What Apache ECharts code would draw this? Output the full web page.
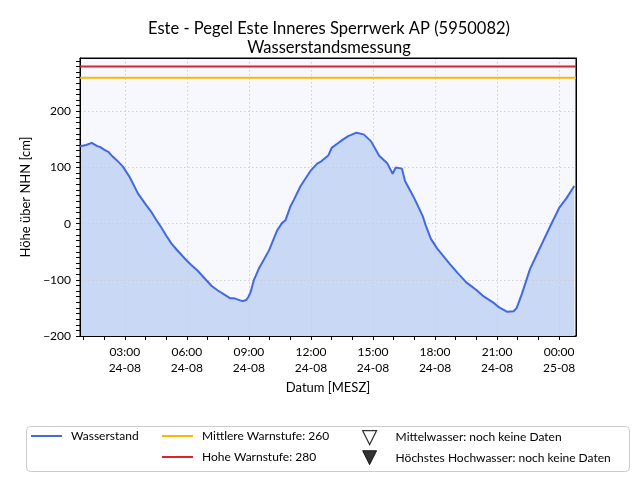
<!DOCTYPE html>
<html>
<head>
<meta charset="utf-8">
<script src="https://cdn.jsdelivr.net/npm/echarts@6/dist/echarts.min.js"></script>
<style>
html, body { margin: 0; padding: 0; background: #fff; }
#main { width: 640px; height: 480px; }
</style>
</head>
<body>
<div id="main"></div>
<script>
// Messzeitpunkte (Tag-Monat Stunde:Minute, MESZ)
var zeiten = [
    '24-08 00:50', '24-08 01:08', '24-08 01:24', '24-08 01:40', '24-08 01:50',
    '24-08 02:00', '24-08 02:12', '24-08 02:16', '24-08 02:21', '24-08 02:35', '24-08 02:54',
    '24-08 03:14', '24-08 03:38', '24-08 04:02', '24-08 04:18', '24-08 04:30', '24-08 04:45',
    '24-08 05:00', '24-08 05:15', '24-08 05:30', '24-08 05:54', '24-08 06:12', '24-08 06:30',
    '24-08 06:48', '24-08 07:00', '24-08 07:12', '24-08 07:30', '24-08 07:48', '24-08 08:06',
    '24-08 08:18', '24-08 08:22', '24-08 08:41', '24-08 08:52', '24-08 08:58', '24-08 09:05',
    '24-08 09:14', '24-08 09:29', '24-08 09:58', '24-08 10:22', '24-08 10:36', '24-08 10:46',
    '24-08 11:00', '24-08 11:10', '24-08 11:30', '24-08 12:00', '24-08 12:18', '24-08 12:30',
    '24-08 12:51', '24-08 13:00', '24-08 13:24', '24-08 13:48', '24-08 14:12', '24-08 14:33',
    '24-08 14:54', '24-08 15:18', '24-08 15:42', '24-08 15:57', '24-08 16:06', '24-08 16:24',
    '24-08 16:33', '24-08 16:54', '24-08 17:00', '24-08 17:24', '24-08 17:33', '24-08 17:48',
    '24-08 18:06', '24-08 18:42', '24-08 19:06', '24-08 19:30', '24-08 20:00', '24-08 20:18',
    '24-08 20:48', '24-08 21:06', '24-08 21:30', '24-08 21:48', '24-08 21:57', '24-08 22:12',
    '24-08 22:36', '24-08 23:00', '24-08 23:30', '25-08 00:00', '25-08 00:21', '25-08 00:44'
];
// Wasserstand [cm über NHN]
var wasserstand = [
    138, 140, 144, 138, 136,
    132, 128, 131, 122, 114, 102,
    83, 54, 33, 20, 8, -6,
    -21, -35, -46, -62, -73, -83,
    -95, -103, -111, -119, -126, -133,
    -133, -131, -138, -136, -131, -122,
    -101, -80, -48, -12, 1, 6,
    30, 42, 67, 95, 107, 111,
    122, 135, 146, 156, 162, 159,
    147, 121, 107, 89, 100, 98,
    76, 52, 45, 14, -3, -27,
    -44, -71, -88, -104, -118, -128,
    -140, -149, -157, -156, -150, -125,
    -80, -49, -10, 28, 45, 67
];
var warnMittel = 260;
var warnHoch = 280;
var xStart = '24-08 00:50';
var xEnde = '25-08 00:49';
var yTicks = [-200, -100, 0, 100, 200];

var schrift = 'Lato, "Open Sans", sans-serif';

// '24-08 03:00' -> Stunden seit 24-08 00:00
function stunden(s) {
    var tag = parseInt(s.slice(0, 2), 10);
    var h = parseInt(s.slice(6, 8), 10);
    var m = parseInt(s.slice(9, 11), 10);
    return (tag - 24) * 24 + h + m / 60;
}
function zwei(n) { return (n < 10 ? '0' : '') + n; }

var punkte = [];
for (var i = 0; i < zeiten.length; i++) {
    punkte.push([stunden(zeiten[i]), wasserstand[i]]);
}
var xMin = stunden(xStart);
var xMax = stunden(xEnde);

var gitter = {
    show: true, showMinLine: false, showMaxLine: false,
    lineStyle: {color: '#cfcfcf', type: [1.5, 2.5], width: 1}
};
var legendeText = {fontFamily: schrift, fontSize: 12, color: '#000', padding: [0, 0, 0, 4]};

var chart = echarts.init(document.getElementById('main'), null, {renderer: 'canvas'});
chart.setOption({
    animation: false,
    backgroundColor: '#fff',
    textStyle: {fontFamily: schrift},
    title: {
        text: 'Este - Pegel Este Inneres Sperrwerk AP (5950082)\nWasserstandsmessung',
        left: 324,
        top: 14,
        textAlign: 'center',
        textStyle: {fontFamily: schrift, fontSize: 16.5, fontWeight: 'normal', color: '#000', lineHeight: 19}
    },
    grid: {
        left: 80, right: 64, top: 58, bottom: 144,
        show: true,
        backgroundColor: '#f7f8fe',
        borderColor: '#000',
        borderWidth: 1,
        z: 0
    },
    xAxis: [{
        // stündliche Striche, Beschriftung alle 3 Stunden
        type: 'value',
        min: xMin,
        max: xMax,
        splitNumber: 24,
        position: 'bottom',
        z: 2,
        name: 'Datum [MESZ]',
        nameLocation: 'middle',
        nameGap: 41,
        nameTextStyle: {fontFamily: schrift, fontSize: 13, color: '#000', verticalAlign: 'top'},
        axisLine: {show: true, onZero: false, lineStyle: {color: '#000', width: 1}},
        axisTick: {show: true, length: 4, lineStyle: {color: '#000'}},
        axisLabel: {
            show: true, margin: 8, color: '#000', fontSize: 12, lineHeight: 16,
            fontFamily: schrift,
            showMinLabel: false, showMaxLabel: false,
            formatter: function (v) {
                var h = Math.round(v);
                if (Math.abs(v - h) > 0.01 || h % 3 !== 0) return '';
                var tag = h >= 24 ? '25-08' : '24-08';
                return zwei(h % 24) + ':00\n' + tag;
            }
        },
        splitLine: {show: false}
    }, {
        // Gitterlinien alle 3 Stunden
        type: 'value',
        min: xMin,
        max: xMax,
        splitNumber: 8,
        position: 'top',
        z: 2,
        axisLine: {show: true, onZero: false, lineStyle: {color: '#000', width: 1}},
        axisTick: {show: false},
        axisLabel: {show: false},
        splitLine: gitter
    }],
    yAxis: [{
        // Striche alle 10 cm, Beschriftung alle 100 cm
        type: 'value',
        min: -200,
        max: 295,
        interval: 10,
        position: 'left',
        z: 2,
        name: 'Höhe über NHN [cm]',
        nameLocation: 'middle',
        nameGap: 37,
        nameTextStyle: {fontFamily: schrift, fontSize: 13, color: '#000'},
        axisLine: {show: true, onZero: false, lineStyle: {color: '#000', width: 1}},
        axisTick: {show: true, length: 4, lineStyle: {color: '#000'}},
        axisLabel: {
            show: true, margin: 9, color: '#000', fontSize: 12,
            fontFamily: schrift,
            showMaxLabel: false,
            formatter: function (v) {
                if (yTicks.indexOf(v) < 0) return '';
                return String(v).replace('-', '\u2212');
            }
        },
        splitLine: {show: false}
    }, {
        // Gitterlinien alle 100 cm
        type: 'value',
        min: -200,
        max: 295,
        interval: 100,
        position: 'right',
        z: 2,
        axisLine: {show: true, onZero: false, lineStyle: {color: '#000', width: 1}},
        axisTick: {show: false},
        axisLabel: {show: false},
        splitLine: gitter
    }],
    legend: [{
        left: 31, top: 430, padding: 0,
        itemWidth: 31, itemHeight: 2,
        selectedMode: false,
        textStyle: legendeText,
        data: [{name: 'Wasserstand', icon: 'rect'}]
    }, {
        left: 162, top: 430, padding: 0,
        orient: 'vertical',
        itemWidth: 31, itemHeight: 2, itemGap: 9,
        selectedMode: false,
        textStyle: legendeText,
        data: [
            {name: 'Mittlere Warnstufe: 260', icon: 'rect'},
            {name: 'Hohe Warnstufe: 280', icon: 'rect'}
        ]
    }, {
        left: 362, top: 430, padding: 0,
        orient: 'vertical',
        itemWidth: 14, itemHeight: 14, itemGap: 5,
        selectedMode: false,
        textStyle: {fontFamily: schrift, fontSize: 12, color: '#000', padding: [0, 0, 0, 14]},
        data: [{
            name: 'Mittelwasser: noch keine Daten',
            icon: 'path://M0,0L14,0L7,14Z',
            itemStyle: {color: '#fff', borderColor: '#000', borderWidth: 1.2}
        }, {
            name: 'Höchstes Hochwasser: noch keine Daten',
            icon: 'path://M0,0L14,0L7,14Z',
            itemStyle: {color: '#000', borderColor: '#000', borderWidth: 1}
        }]
    }],
    graphic: [{
        type: 'rect',
        shape: {x: 26.5, y: 426.5, width: 603, height: 45, r: 4},
        style: {fill: '#fff', stroke: '#cccccc', lineWidth: 1},
        z: -1,
        silent: true
    }],
    series: [{
        name: 'Wasserstand Fläche',
        type: 'line',
        xAxisIndex: 0, yAxisIndex: 0,
        data: punkte,
        symbol: 'none',
        silent: true,
        z: 1,
        lineStyle: {width: 0, opacity: 0},
        areaStyle: {color: '#c9d8f5', opacity: 1, origin: 'start'}
    }, {
        name: 'Wasserstand',
        type: 'line',
        xAxisIndex: 0, yAxisIndex: 0,
        data: punkte,
        symbol: 'none',
        silent: true,
        z: 3,
        itemStyle: {color: '#4169e1'},
        lineStyle: {color: '#4169e1', width: 2}
    }, {
        name: 'Mittlere Warnstufe: 260',
        type: 'line',
        data: [[xMin, warnMittel], [xMax, warnMittel]],
        symbol: 'none',
        silent: true,
        z: 3,
        itemStyle: {color: '#fbb800'},
        lineStyle: {color: '#fbb800', width: 2}
    }, {
        name: 'Hohe Warnstufe: 280',
        type: 'line',
        data: [[xMin, warnHoch], [xMax, warnHoch]],
        symbol: 'none',
        silent: true,
        z: 3,
        itemStyle: {color: '#d8242b'},
        lineStyle: {color: '#d8242b', width: 2}
    }, {
        name: 'Mittelwasser: noch keine Daten',
        type: 'scatter',
        data: [],
        symbol: 'triangle',
        itemStyle: {color: '#fff', borderColor: '#000', borderWidth: 1}
    }, {
        name: 'Höchstes Hochwasser: noch keine Daten',
        type: 'scatter',
        data: [],
        symbol: 'triangle',
        itemStyle: {color: '#000'}
    }]
});
</script>
</body>
</html>
